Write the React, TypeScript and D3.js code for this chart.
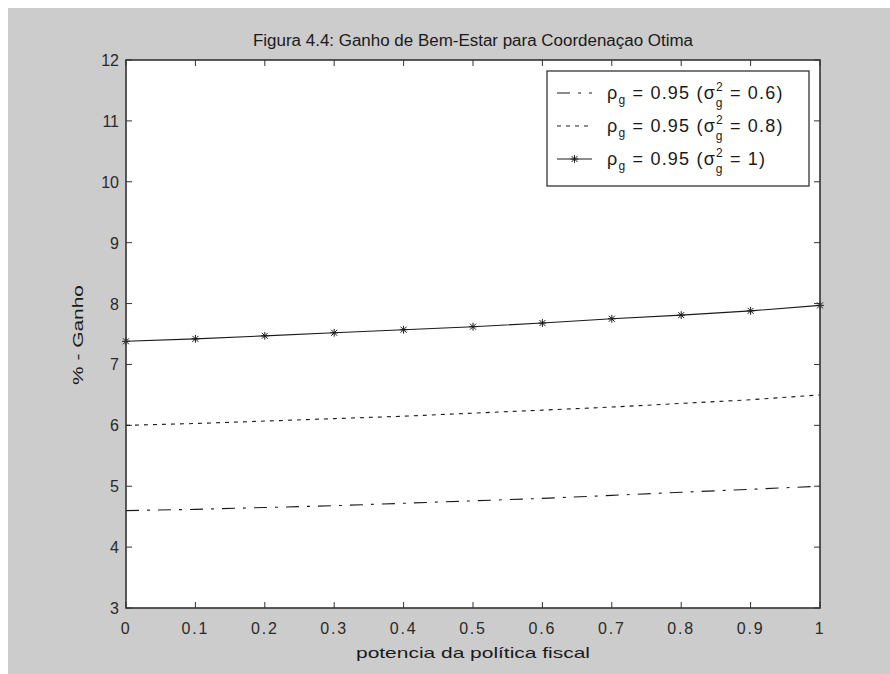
import React from "react";
import * as d3 from "d3";

const xValues = [0, 0.1, 0.2, 0.3, 0.4, 0.5, 0.6, 0.7, 0.8, 0.9, 1];
const serieSigma06 = [4.6, 4.62, 4.65, 4.68, 4.72, 4.76, 4.8, 4.85, 4.9, 4.95, 5.0];
const serieSigma08 = [6.0, 6.03, 6.07, 6.11, 6.15, 6.2, 6.25, 6.3, 6.36, 6.42, 6.5];
const serieSigma1 = [7.38, 7.42, 7.47, 7.52, 7.57, 7.62, 7.68, 7.75, 7.81, 7.88, 7.97];
const xTicks = [0, 0.1, 0.2, 0.3, 0.4, 0.5, 0.6, 0.7, 0.8, 0.9, 1];
const yTicks = [3, 4, 5, 6, 7, 8, 9, 10, 11, 12];
const legendSigmas = ["0.6", "0.8", "1"];
const titleText = "Figura 4.4: Ganho de Bem-Estar para Coordenaçao Otima";
const xLabel = "potencia da política fiscal";
const yLabel = "% - Ganho";

const W = 890;
const H = 674;
const L = 126, R = 820, T = 60, B = 608;
const FONT = "'Liberation Sans', Arial, sans-serif";
const INK = "#1a1a1a";

export default function App() {
  const x = d3.scaleLinear().domain([0, 1]).range([L, R]);
  const y = d3.scaleLinear().domain([3, 12]).range([B, T]);
  const line = d3.line<number>().x((_, i) => x(xValues[i])).y((d) => y(d));

  const series = [
    { data: serieSigma06, dash: "13,8,3,8" },
    { data: serieSigma08, dash: "4,5" },
    { data: serieSigma1, dash: "none" },
  ];

  const star = (cx: number, cy: number, s: number, key: string) => (
    <g key={key} stroke={INK} strokeWidth={1}>
      <line x1={cx - s} y1={cy - s} x2={cx + s} y2={cy + s} />
      <line x1={cx - s} y1={cy + s} x2={cx + s} y2={cy - s} />
      <line x1={cx} y1={cy - s * 1.3} x2={cx} y2={cy + s * 1.3} />
      <line x1={cx - s * 1.3} y1={cy} x2={cx + s * 1.3} y2={cy} />
    </g>
  );

  const legX = 547, legY = 71, legW = 262, legH = 115;
  const rowsY = [93, 126, 159];

  return (
    <svg
      width={W}
      height={H}
      style={{ position: "absolute", left: 0, top: 0, display: "block" }}
      fontFamily={FONT}
    >
      <rect x={0} y={0} width={W} height={H} fill="#ffffff" />
      <rect x={8} y={8} width={W - 8} height={H - 8} fill="#cccccc" />
      <rect x={L} y={T} width={R - L} height={B - T} fill="#ffffff" />

      {/* title */}
      <text x={(L + R) / 2} y={46} textAnchor="middle" fontSize={16} fill={INK}
        textLength={440} lengthAdjust="spacingAndGlyphs">{titleText}</text>

      {/* ticks */}
      <g stroke="#333" strokeWidth={1}>
        {xTicks.map((t) => (
          <g key={"xt" + t}>
            <line x1={x(t)} x2={x(t)} y1={B} y2={B - 6} />
            <line x1={x(t)} x2={x(t)} y1={T} y2={T + 6} />
          </g>
        ))}
        {yTicks.map((t) => (
          <g key={"yt" + t}>
            <line x1={L} x2={L + 6} y1={y(t)} y2={y(t)} />
            <line x1={R} x2={R - 6} y1={y(t)} y2={y(t)} />
          </g>
        ))}
      </g>

      {/* lines */}
      {series.map((s, i) => (
        <path key={"s" + i} d={line(s.data) || ""} fill="none" stroke={INK}
          strokeWidth={1.1} strokeDasharray={s.dash} />
      ))}
      {serieSigma1.map((v, i) => star(x(xValues[i]), y(v), 3, "m" + i))}

      {/* frame */}
      <rect x={L} y={T} width={R - L} height={B - T} fill="none" stroke="#333" strokeWidth={1.6} />

      {/* tick labels */}
      <g fontSize={16} fill="#2a2a2a">
        {xTicks.map((t) => (
          <text key={"xl" + t} x={x(t)} y={634} textAnchor="middle" letterSpacing={1.8}>
            {d3.format("~g")(t)}
          </text>
        ))}
        {yTicks.map((t) => (
          <text key={"yl" + t} x={119} y={y(t) + 6} textAnchor="end">
            {t}
          </text>
        ))}
      </g>

      {/* axis labels */}
      <text x={(L + R) / 2} y={658} textAnchor="middle" fontSize={15} fill={INK}
        textLength={234} lengthAdjust="spacingAndGlyphs">{xLabel}</text>
      <text transform={`translate(83,335) rotate(-90)`} textAnchor="middle" fontSize={15} fill={INK}
        textLength={100} lengthAdjust="spacingAndGlyphs">{yLabel}</text>

      {/* legend */}
      <rect x={legX} y={legY} width={legW} height={legH} fill="#ffffff" stroke="#333" strokeWidth={1.3} />
      {series.map((s, i) => (
        <g key={"lg" + i}>
          <line x1={557} x2={592} y1={rowsY[i]} y2={rowsY[i]} stroke={INK} strokeWidth={1.1}
            strokeDasharray={s.dash} />
          {i === 2 && star(574.5, rowsY[i], 3, "lm")}
          <text x={607} y={rowsY[i] + 6} fontSize={18} fill={INK} letterSpacing={1.2}>
            ρ
            <tspan fontSize={12} dy={5}>g</tspan>
            <tspan dy={-5}> = 0.95 (σ</tspan>
            <tspan fontSize={12} dy={-8}>2</tspan>
            <tspan fontSize={12} dx={-8} dy={16}>g</tspan>
            <tspan dy={-8}> = {legendSigmas[i]})</tspan>
          </text>
        </g>
      ))}
    </svg>
  );
}
